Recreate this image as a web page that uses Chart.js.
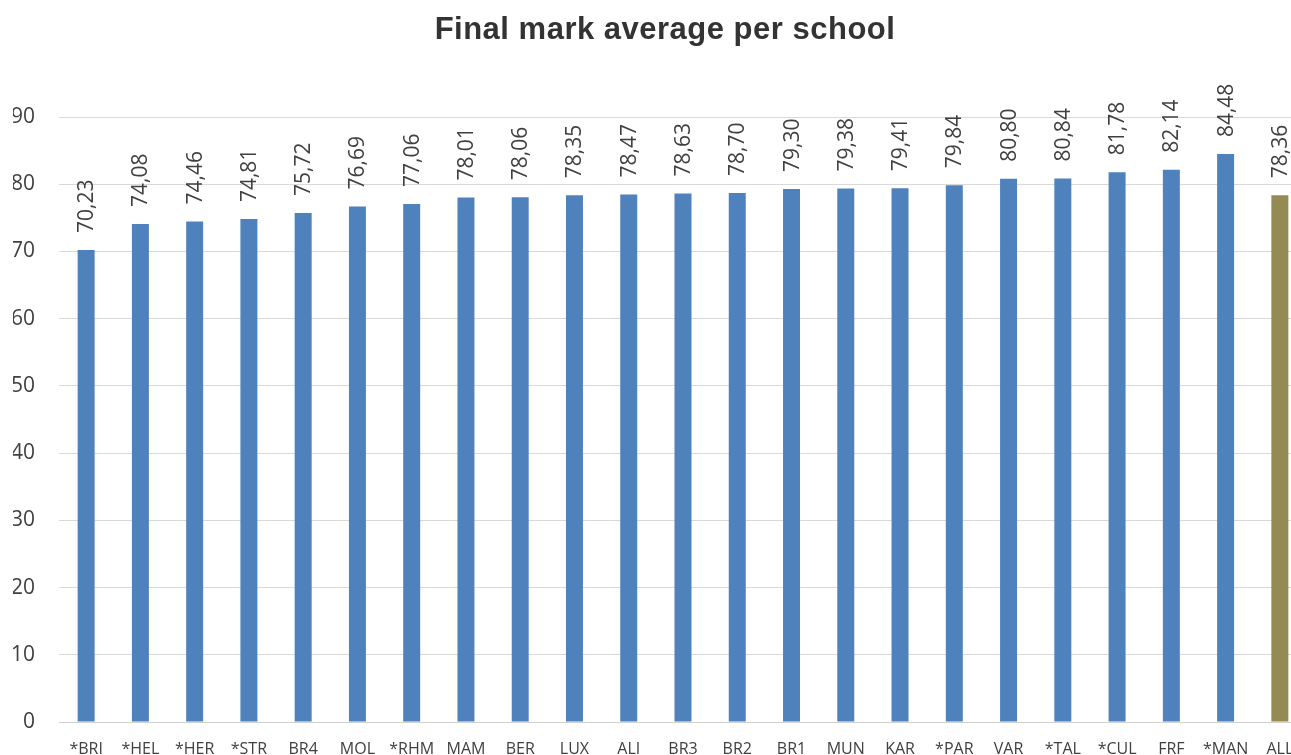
<!DOCTYPE html>
<html>
<head>
<meta charset="utf-8">
<script src="https://cdn.jsdelivr.net/npm/chart.js@4"></script>
<style>
  html, body { margin: 0; padding: 0; background: #fff; overflow: hidden; }
  #chartRoot { position: absolute; left: 0; top: 0; width: 1330px; height: 760px; }
</style>
</head>
<body>
<div id="chartRoot"><canvas id="myChart" width="1330" height="760"></canvas></div>
<script>
// schools, left to right
const schools = ["*BRI", "*HEL", "*HER", "*STR", "BR4", "MOL", "*RHM", "MAM", "BER", "LUX", "ALI",
  "BR3", "BR2", "BR1", "MUN", "KAR", "*PAR", "VAR", "*TAL", "*CUL", "FRF", "*MAN", "ALL"];
const averages = [70.23, 74.08, 74.46, 74.81, 75.72, 76.69, 77.06, 78.01, 78.06, 78.35, 78.47,
  78.63, 78.70, 79.30, 79.38, 79.41, 79.84, 80.80, 80.84, 81.78, 82.14, 84.48, 78.36];
const yTicks = [0, 10, 20, 30, 40, 50, 60, 70, 80, 90];
const chartTitle = "Final mark average per school";

const blue = "#4f81bd";
const olive = "#948a54";
const barColors = schools.map(s => s === "ALL" ? olive : blue);

// vertical value labels above the bars, "70,23" style
const valueLabels = {
  id: "valueLabels",
  afterDatasetsDraw(chart) {
    const ctx = chart.ctx;
    const meta = chart.getDatasetMeta(0);
    ctx.save();
    ctx.font = "21px 'Open Sans'";
    ctx.fillStyle = "#404040";
    ctx.textAlign = "left";
    ctx.textBaseline = "middle";
    meta.data.forEach((bar, i) => {
      ctx.save();
      ctx.translate(bar.x + 1, bar.y - 17);
      ctx.rotate(-Math.PI / 2);
      ctx.fillText(averages[i].toFixed(2).replace(".", ","), 0, 0);
      ctx.restore();
    });
    ctx.restore();
  }
};

// title drawn by hand so it sits where the original one does
const titlePlugin = {
  id: "titlePlugin",
  afterDraw(chart) {
    const ctx = chart.ctx;
    ctx.save();
    ctx.font = "bold 31px 'Liberation Sans'";
    ctx.letterSpacing = "0.5px";
    ctx.fillStyle = "#333333";
    ctx.textAlign = "center";
    ctx.textBaseline = "alphabetic";
    ctx.fillText(chartTitle, 665, 39);
    ctx.restore();
  }
};

const ctx = document.getElementById("myChart");
new Chart(ctx, {
  type: "bar",
  data: {
    labels: schools,
    datasets: [{
      label: "Final mark average",
      data: averages,
      backgroundColor: barColors,
      barPercentage: 0.313,
      categoryPercentage: 1.0
    }]
  },
  options: {
    responsive: false,
    animation: false,
    layout: { padding: { left: 13, right: 23, top: 117, bottom: 2 } },
    scales: {
      x: {
        grid: { display: false, drawTicks: false },
        border: { display: true, color: "#d0d0d0", width: 1 },
        ticks: { font: { family: "'Open Sans'", size: 16 }, color: "#404040", padding: 18, maxRotation: 0, autoSkip: false },
        afterFit(axis) { axis.height = 36; }
      },
      y: {
        min: 0,
        max: 90,
        afterBuildTicks(axis) { axis.ticks = yTicks.map(v => ({ value: v })); },
        grid: { color: "#d9d9d9", lineWidth: 1, drawTicks: false },
        border: { display: false },
        ticks: { font: { family: "'Open Sans'", size: 21 }, color: "#404040", padding: 24 },
        afterFit(axis) { axis.width = 46; }
      }
    },
    plugins: {
      legend: { display: false },
      tooltip: { enabled: false },
      title: { display: false }
    }
  },
  plugins: [valueLabels, titlePlugin]
});
</script>
</body>
</html>
